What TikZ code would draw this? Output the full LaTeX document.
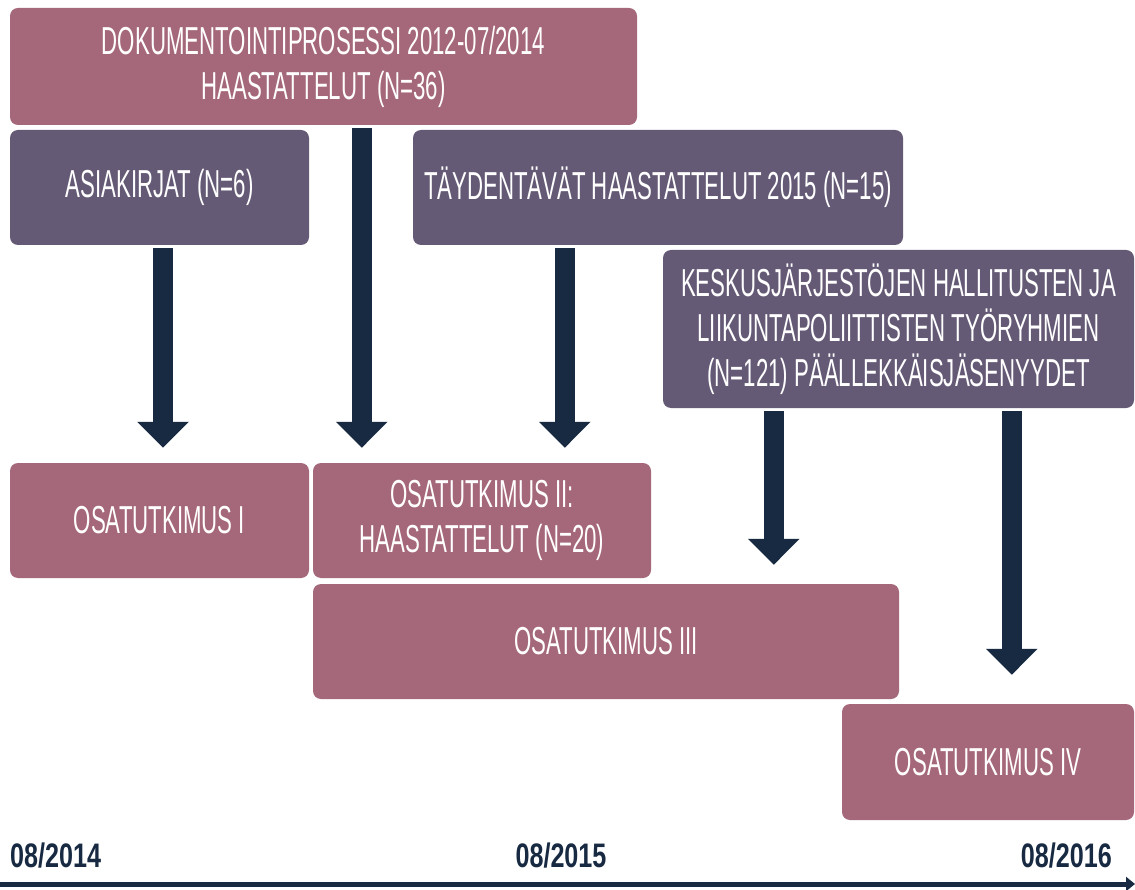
\documentclass[tikz,border=0pt]{standalone}
\usepackage{fontspec}
\setmainfont{Liberation Sans}
\newfontfamily\boxfont[FakeStretch=0.57]{Liberation Sans}
\newfontfamily\axfont[FakeStretch=0.74]{Liberation Sans Bold}
\usetikzlibrary{arrows.meta,positioning,calc}
\definecolor{mauve}{HTML}{A5687A}
\definecolor{plum}{HTML}{655A76}
\definecolor{navy}{HTML}{172A42}
\tikzset{
  pbox/.style={fill=mauve, rounded corners=8pt, text=white, align=center,
    font=\boxfont\fontsize{39}{45}\selectfont, inner sep=0pt},
  vbox/.style={pbox, fill=plum},
  blockarrow/.style={draw=navy, line width=20pt,
    -{Triangle[width=50pt,length=26pt]}},
  axlabel/.style={text=navy, font=\axfont\fontsize{34}{34}\selectfont, inner sep=0pt}
}
\begin{document}
\begin{tikzpicture}[x=1pt,y=-1pt]
\useasboundingbox (0,0) rectangle (1135,890);
\fill[white] (0,0) rectangle (1135,890);
% boxes
\node[pbox, minimum width=627pt, minimum height=117pt] (top) at (323.5,66.5)
  {DOKUMENTOINTIPROSESSI 2012-07/2014\\HAASTATTELUT (N=36)};
\node[vbox, minimum width=299pt, minimum height=115pt] (asia) at (159.5,187.5)
  {ASIAKIRJAT (N=6)};
\node[vbox, minimum width=490pt, minimum height=115pt] (tayd) at (658,187.5)
  {TÄYDENTÄVÄT HAASTATTELUT 2015 (N=15)};
\node[vbox, minimum width=471pt, minimum height=158pt] (kesk) at (898.5,329)
  {KESKUSJÄRJESTÖJEN HALLITUSTEN JA\\LIIKUNTAPOLIITTISTEN TYÖRYHMIEN\\(N=121) PÄÄLLEKKÄISJÄSENYYDET};
\node[pbox, minimum width=299pt, minimum height=115pt] (os1) at (159.5,520.5)
  {OSATUTKIMUS I};
\node[pbox, minimum width=338pt, minimum height=115pt] (os2) at (482,520.5)
  {OSATUTKIMUS II:\\HAASTATTELUT (N=20)};
\node[pbox, minimum width=586pt, minimum height=115pt] (os3) at (606,641.5)
  {OSATUTKIMUS III};
\node[pbox, minimum width=292pt, minimum height=116pt] (os4) at (988,762)
  {OSATUTKIMUS IV};
% arrows
\draw[blockarrow] ([xshift=3.5pt,yshift=-3pt]asia.south) -- ([xshift=3.5pt,yshift=15pt]os1.north);
\draw[blockarrow] ([xshift=352pt,yshift=-3pt]top.south west) -- ([xshift=49pt,yshift=15pt]os2.north west);
\draw[blockarrow] ([xshift=152pt,yshift=-3pt]tayd.south west) -- ([xshift=252pt,yshift=15pt]os2.north west);
\draw[blockarrow] ([xshift=111pt,yshift=-3pt]kesk.south west) -- ([xshift=461pt,yshift=19pt]os3.north west);
\draw[blockarrow] ([xshift=349pt,yshift=-3pt]kesk.south west) -- ([xshift=170pt,yshift=29pt]os4.north west);
% axis
\coordinate (axL) at (0,884);
\coordinate (axR) at (1135,884);
\draw[navy, line width=5pt, -{Triangle[width=14pt,length=9pt]}] (axL) -- (axR);
\node[axlabel, anchor=base west] (l14) at (10,867) {08/2014};
\node[axlabel, anchor=base] (l15) at (561,867) {08/2015};
\node[axlabel, anchor=base east] (l16) at (1112,867) {08/2016};
\end{tikzpicture}
\end{document}
